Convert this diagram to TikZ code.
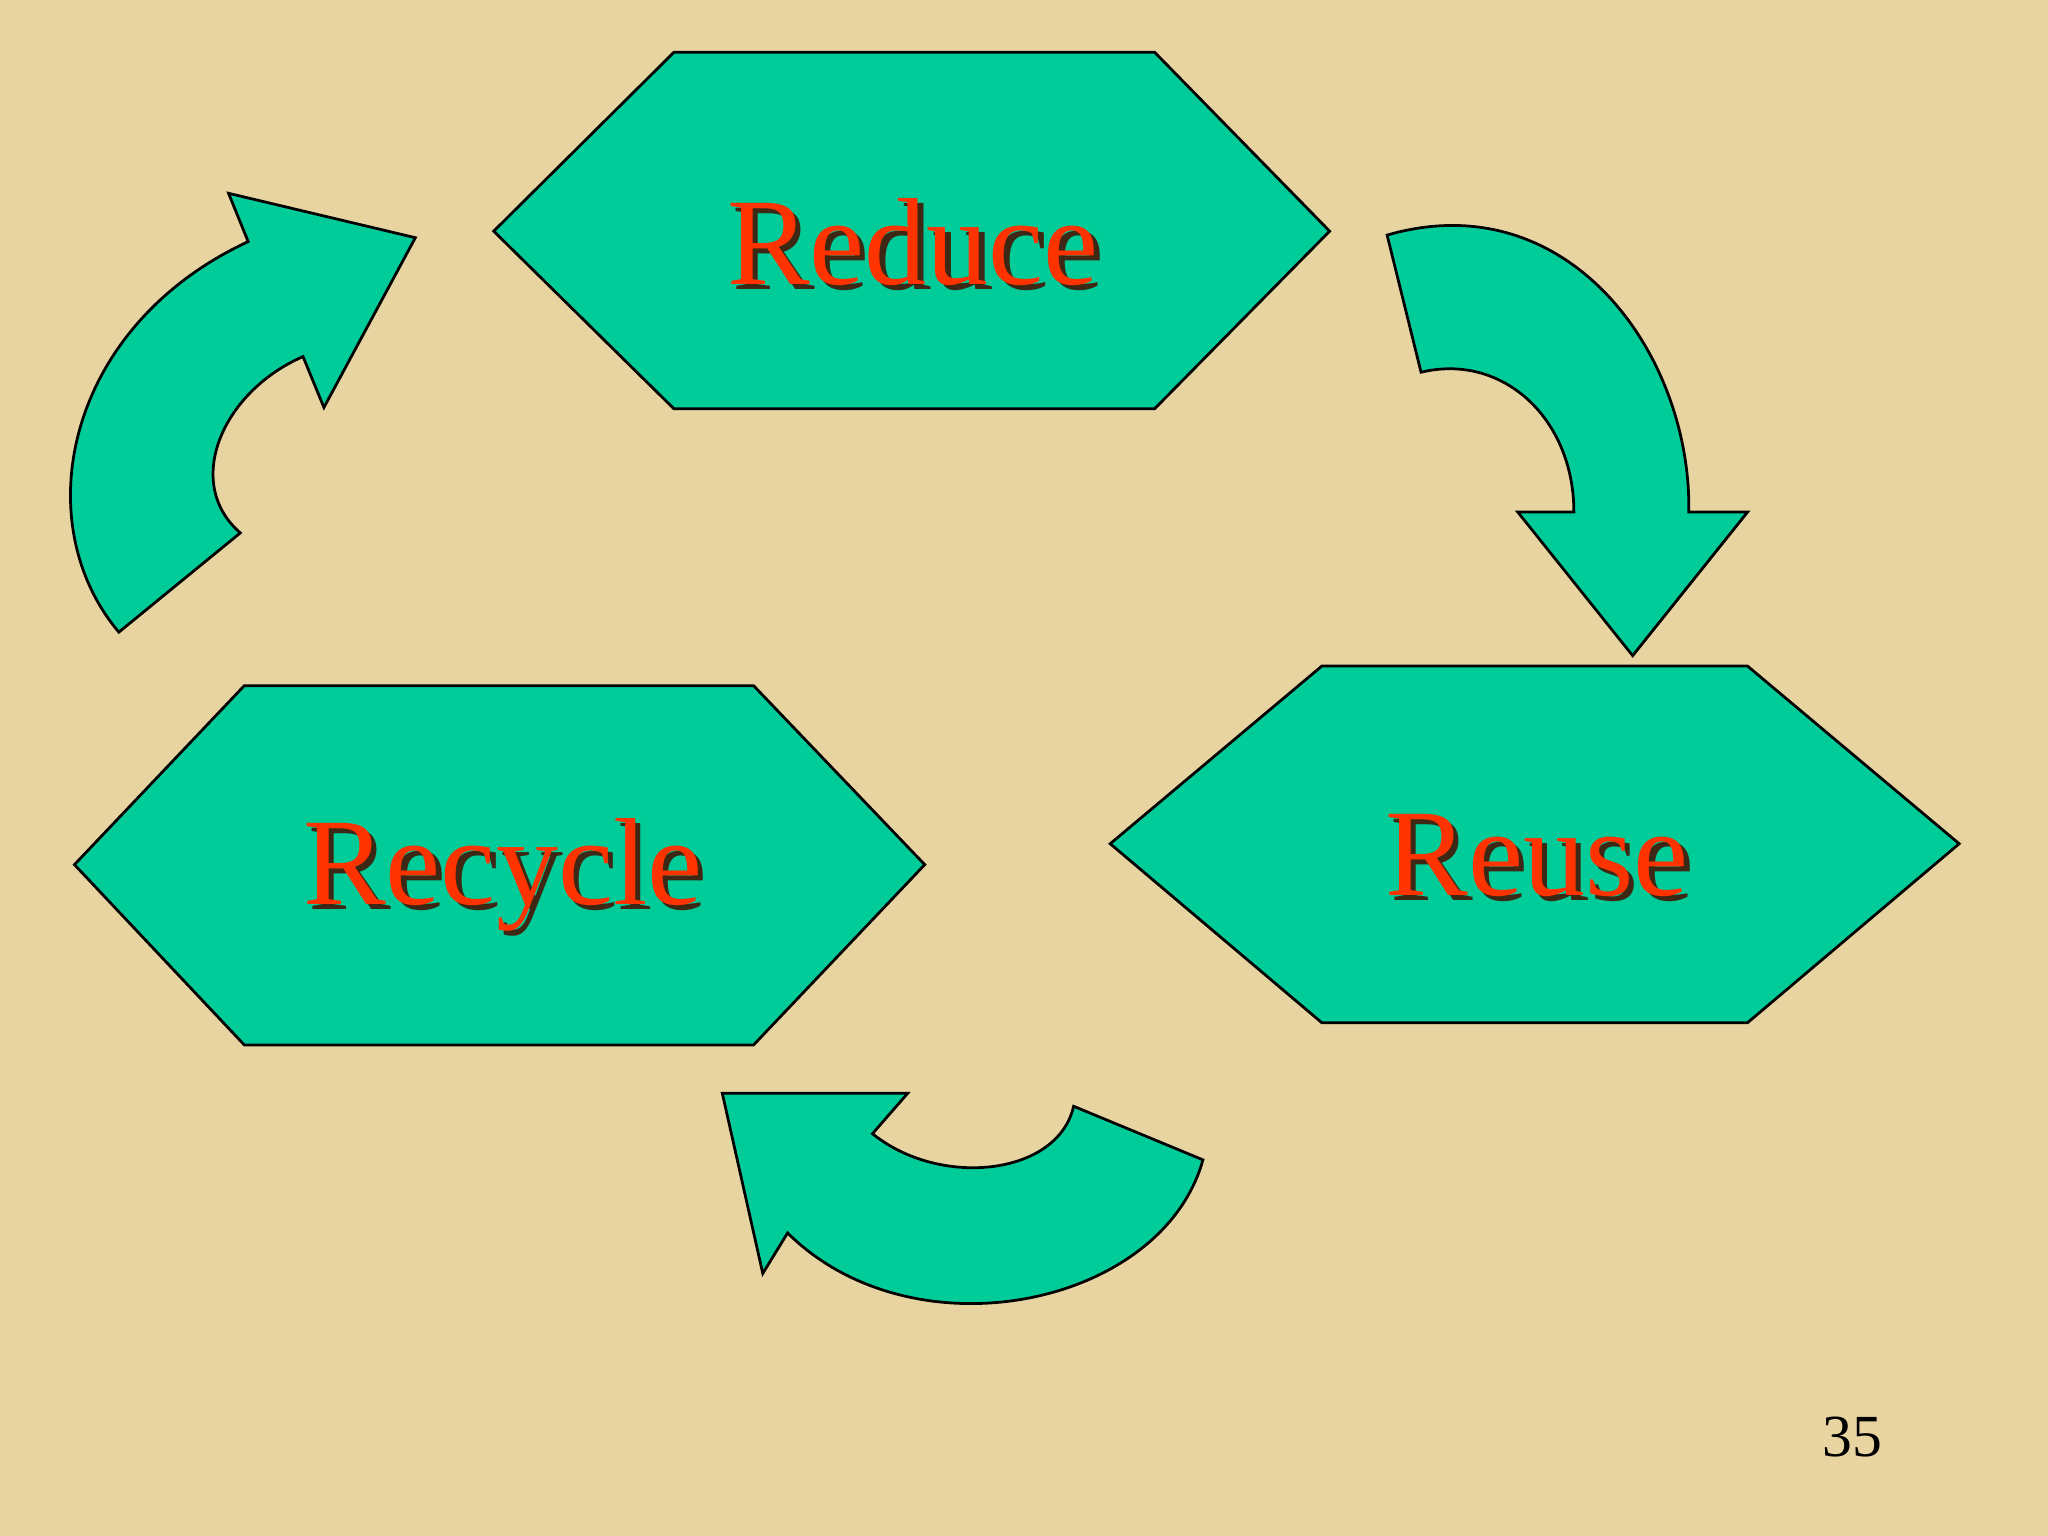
\documentclass[tikz,border=0pt]{standalone}
\usepackage{fontspec}
\setmainfont{Liberation Serif}
\definecolor{bgtan}{RGB}{232,212,160}
\definecolor{hexgreen}{RGB}{0,204,153}
\definecolor{lblred}{RGB}{255,51,0}
\definecolor{shdark}{RGB}{60,40,20}
\begin{document}
\begin{tikzpicture}[x=0.01cm,y=-0.01cm,
  shp/.style={fill=hexgreen,draw=black,line width=0.6pt,line join=miter},
  lbl/.style={font=\fontsize{27}{32}\selectfont,text=lblred},
  shd/.style={font=\fontsize{27}{32}\selectfont,text=shdark}]
\fill[bgtan] (0,0) rectangle (1568,1176);
\useasboundingbox (0,0) rectangle (1568,1176);
% hexagons
\draw[shp] (378,177) -- (516,40) -- (884,40) -- (1018,177) -- (884,313) -- (516,313) -- cycle;
\draw[shp] (57,662) -- (187,525) -- (577,525) -- (708,662) -- (577,800) -- (187,800) -- cycle;
\draw[shp] (850,646) -- (1012,510) -- (1338,510) -- (1500,646) -- (1338,783) -- (1012,783) -- cycle;
% arrows
\draw[shp] (91,484) .. controls (20,400) and (50,250) .. (190,185) -- (175,148) -- (318,182) -- (248,312) -- (232,273)
  .. controls (170,300) and (140,370) .. (184,408) -- cycle;
\draw[shp] (1062,180) .. controls (1200,140) and (1295,270) .. (1293,392) -- (1338,392) -- (1250,502) -- (1162,392) -- (1205,392)
  .. controls (1205,320) and (1150,270) .. (1088,285) -- cycle;
\draw[shp] (921,888) .. controls (890,1000) and (700,1040) .. (603,944) -- (584,975) -- (553,837) -- (695,837) -- (668,868)
  .. controls (720,910) and (810,900) .. (822,847) -- cycle;
% labels
\node[shd] at (703,189) {Reduce};
\node[lbl] (reduce) at (699,185) {Reduce};
\node[shd] at (389,674) {Recycle};
\node[lbl] (recycle) at (385,670) {Recycle};
\node[shd] at (1181,659) {Reuse};
\node[lbl] (reuse) at (1177,655) {Reuse};
\node[font=\fontsize{13}{16}\selectfont] (pg) at (1418,1100) {35};
\end{tikzpicture}
\end{document}
